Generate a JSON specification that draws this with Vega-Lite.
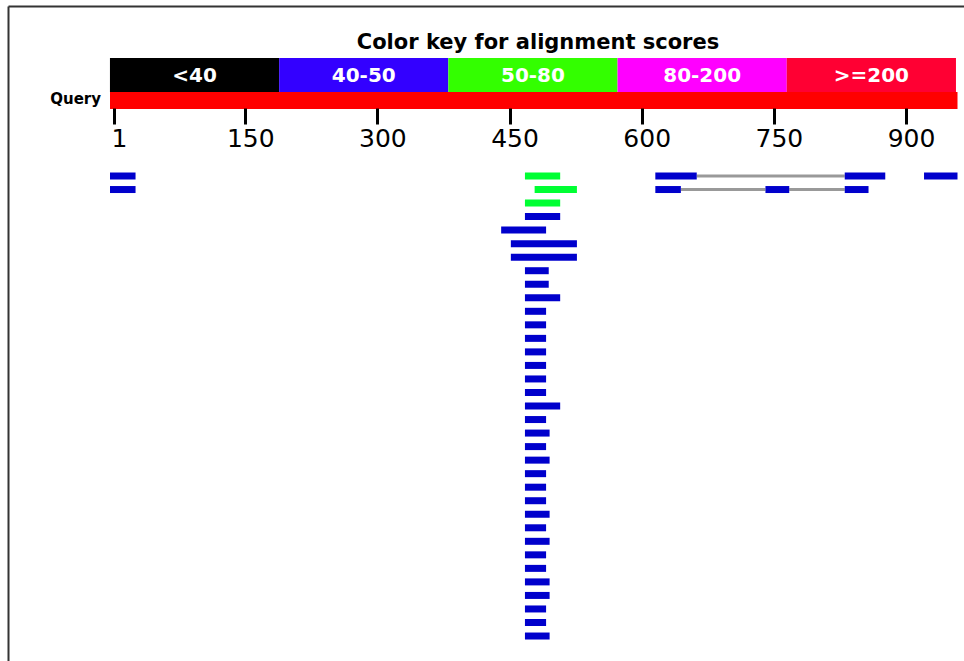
{
  "$schema": "https://vega.github.io/schema/vega-lite/v6.json",
  "width": 956,
  "height": 655,
  "autosize": {"type": "none"},
  "padding": {"left": 8, "top": 6, "right": 0, "bottom": 0},
  "background": "#ffffff",
  "config": {
    "view": {"stroke": "transparent", "strokeWidth": 0},
    "axis": {"domain": false},
    "axisY": {"domain": true, "domainColor": "#333333", "domainWidth": 2, "ticks": false, "labels": false, "grid": false, "title": null}
  },
  "title": {
    "text": "Color key for alignment scores",
    "anchor": "middle",
    "frame": "group",
    "offset": -64,
    "dx": 52,
    "baseline": "alphabetic",
    "font": "DejaVu Sans",
    "fontSize": 21,
    "fontWeight": "bold",
    "color": "#000000"
  },
  "datasets": {
    "key": [
      {"label": "<40"},
      {"label": "40-50"},
      {"label": "50-80"},
      {"label": "80-200"},
      {"label": ">=200"}
    ],
    "query": [
      {"name": "Query", "start": 1, "end": 963}
    ],
    "links": [
      {"row": 1, "start": 667, "end": 835},
      {"row": 2, "start": 649, "end": 745},
      {"row": 2, "start": 772, "end": 835}
    ],
    "hits": [
      {"row": 1, "start": 1, "end": 30, "score": "40-50"},
      {"row": 1, "start": 472, "end": 512, "score": "50-80"},
      {"row": 1, "start": 620, "end": 667, "score": "40-50"},
      {"row": 1, "start": 835, "end": 881, "score": "40-50"},
      {"row": 1, "start": 925, "end": 963, "score": "40-50"},
      {"row": 2, "start": 1, "end": 30, "score": "40-50"},
      {"row": 2, "start": 483, "end": 531, "score": "50-80"},
      {"row": 2, "start": 620, "end": 649, "score": "40-50"},
      {"row": 2, "start": 745, "end": 772, "score": "40-50"},
      {"row": 2, "start": 835, "end": 862, "score": "40-50"},
      {"row": 3, "start": 472, "end": 512, "score": "50-80"},
      {"row": 4, "start": 472, "end": 512, "score": "40-50"},
      {"row": 5, "start": 445, "end": 496, "score": "40-50"},
      {"row": 6, "start": 456, "end": 531, "score": "40-50"},
      {"row": 7, "start": 456, "end": 531, "score": "40-50"},
      {"row": 8, "start": 472, "end": 499, "score": "40-50"},
      {"row": 9, "start": 472, "end": 499, "score": "40-50"},
      {"row": 10, "start": 472, "end": 512, "score": "40-50"},
      {"row": 11, "start": 472, "end": 496, "score": "40-50"},
      {"row": 12, "start": 472, "end": 496, "score": "40-50"},
      {"row": 13, "start": 472, "end": 496, "score": "40-50"},
      {"row": 14, "start": 472, "end": 496, "score": "40-50"},
      {"row": 15, "start": 472, "end": 496, "score": "40-50"},
      {"row": 16, "start": 472, "end": 496, "score": "40-50"},
      {"row": 17, "start": 472, "end": 496, "score": "40-50"},
      {"row": 18, "start": 472, "end": 512, "score": "40-50"},
      {"row": 19, "start": 472, "end": 496, "score": "40-50"},
      {"row": 20, "start": 472, "end": 500, "score": "40-50"},
      {"row": 21, "start": 472, "end": 496, "score": "40-50"},
      {"row": 22, "start": 472, "end": 500, "score": "40-50"},
      {"row": 23, "start": 472, "end": 496, "score": "40-50"},
      {"row": 24, "start": 472, "end": 496, "score": "40-50"},
      {"row": 25, "start": 472, "end": 496, "score": "40-50"},
      {"row": 26, "start": 472, "end": 500, "score": "40-50"},
      {"row": 27, "start": 472, "end": 496, "score": "40-50"},
      {"row": 28, "start": 472, "end": 500, "score": "40-50"},
      {"row": 29, "start": 472, "end": 496, "score": "40-50"},
      {"row": 30, "start": 472, "end": 496, "score": "40-50"},
      {"row": 31, "start": 472, "end": 500, "score": "40-50"},
      {"row": 32, "start": 472, "end": 500, "score": "40-50"},
      {"row": 33, "start": 472, "end": 496, "score": "40-50"},
      {"row": 34, "start": 472, "end": 496, "score": "40-50"},
      {"row": 35, "start": 472, "end": 500, "score": "40-50"}
    ]
  },
  "layer": [
    {
      "data": {"name": "key"},
      "encoding": {
        "x": {
          "field": "label", "type": "ordinal", "sort": null, "title": null,
          "scale": {"paddingInner": 0, "paddingOuter": 0.325, "align": 0.927},
          "axis": {"orient": "top", "domain": true, "domainColor": "#333333", "domainWidth": 2, "ticks": false, "labels": false, "grid": false, "title": null}
        }
      },
      "layer": [
        {
          "mark": {"type": "rect"},
          "encoding": {
            "y": {"datum": -7.721, "type": "quantitative", "scale": {"domain": [-11.565, 36.846], "reverse": true, "nice": false, "zero": false, "padding": 0}, "title": null},
            "y2": {"datum": -5.208},
            "color": {
              "field": "label", "type": "nominal", "legend": null,
              "scale": {"domain": ["<40", "40-50", "50-80", "80-200", ">=200"], "range": ["#000000", "#3300FF", "#33FF00", "#FF00FF", "#FF0033"]}
            }
          }
        },
        {
          "mark": {"type": "text", "font": "DejaVu Sans", "fontSize": 20, "fontWeight": "bold", "fill": "#ffffff", "baseline": "middle", "align": "center", "dy": 1},
          "encoding": {
            "y": {"datum": -6.465, "type": "quantitative", "scale": {"domain": [-11.565, 36.846], "reverse": true, "nice": false, "zero": false, "padding": 0}, "title": null},
            "text": {"field": "label"}
          }
        }
      ]
    },
    {
      "layer": [
        {
          "data": {"name": "query"},
          "mark": {"type": "rect", "fill": "#FF0000"},
          "encoding": {
            "x": {
              "field": "start", "type": "quantitative", "title": null,
              "scale": {"domain": [-114.78, 970.37], "nice": false, "zero": false, "padding": 0},
              "axis": {
                "orient": "top", "offset": -102, "values": [1, 150, 300, 450, 600, 750, 900],
                "domain": false, "grid": false, "ticks": true, "tickSize": -16, "tickWidth": 3, "tickColor": "#000000",
                "tickOffset": 4, "labelOffset": 5, "labelPadding": -22.5, "labelBaseline": "alphabetic", "labelAlign": "center",
                "labelFont": "DejaVu Sans", "labelFontSize": 25, "labelColor": "#000000",
                "labelFlush": false, "labelOverlap": false, "labelBound": false, "title": null, "zindex": 1
              }
            },
            "x2": {"field": "end"},
            "y": {"datum": -5.208, "type": "quantitative", "scale": {"domain": [-11.565, 36.846], "reverse": true, "nice": false, "zero": false, "padding": 0}, "title": null},
            "y2": {"datum": -3.952}
          }
        },
        {
          "data": {"name": "query"},
          "mark": {"type": "text", "font": "DejaVu Sans", "fontSize": 15, "fontWeight": "bold", "fill": "#000000", "align": "right", "baseline": "middle", "dx": -9, "dy": -1.5},
          "encoding": {
            "x": {"field": "start", "type": "quantitative", "title": null, "scale": {"domain": [-114.78, 970.37], "nice": false, "zero": false, "padding": 0}},
            "y": {"datum": -4.58, "type": "quantitative", "scale": {"domain": [-11.565, 36.846], "reverse": true, "nice": false, "zero": false, "padding": 0}, "title": null},
            "text": {"field": "name"}
          }
        },
        {
          "data": {"name": "links"},
          "mark": {"type": "rule", "stroke": "#999999", "strokeWidth": 3},
          "encoding": {
            "x": {"field": "start", "type": "quantitative", "title": null, "scale": {"domain": [-114.78, 970.37], "nice": false, "zero": false, "padding": 0}},
            "x2": {"field": "end"},
            "y": {"field": "row", "type": "quantitative", "scale": {"domain": [-11.565, 36.846], "reverse": true, "nice": false, "zero": false, "padding": 0}, "title": null}
          }
        },
        {
          "data": {"name": "hits"},
          "mark": {"type": "bar", "orient": "horizontal", "size": 7},
          "encoding": {
            "x": {"field": "start", "type": "quantitative", "title": null, "scale": {"domain": [-114.78, 970.37], "nice": false, "zero": false, "padding": 0}},
            "x2": {"field": "end"},
            "y": {"field": "row", "type": "quantitative", "scale": {"domain": [-11.565, 36.846], "reverse": true, "nice": false, "zero": false, "padding": 0}, "title": null},
            "color": {
              "field": "score", "type": "nominal", "legend": null,
              "scale": {"domain": ["40-50", "50-80"], "range": ["#0000CC", "#00FF33"]}
            }
          }
        }
      ]
    }
  ],
  "resolve": {"scale": {"x": "independent", "color": "independent"}, "axis": {"x": "independent"}}
}
